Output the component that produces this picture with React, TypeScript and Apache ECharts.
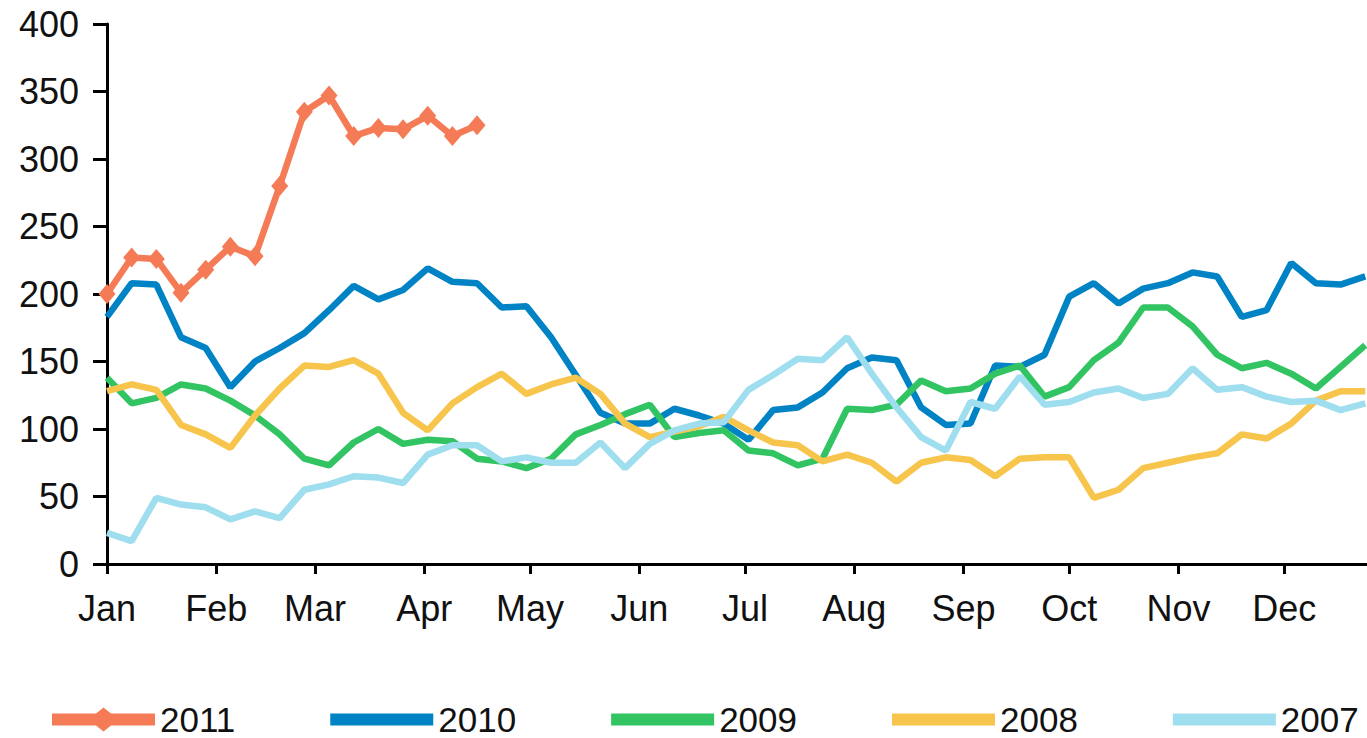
import React, { useEffect, useRef } from "react";
import * as echarts from "echarts";

const months = ["Jan", "Feb", "Mar", "Apr", "May", "Jun", "Jul", "Aug", "Sep", "Oct", "Nov", "Dec"];
const monthStartDays = [0, 31, 59, 90, 120, 151, 181, 212, 243, 273, 304, 334];
const yTicks = [0, 50, 100, 150, 200, 250, 300, 350, 400];

// weekly observations (day of year of each week)
const weekDays = Array.from({ length: 52 }, (_, i) => i * 7);

const s2011 = [200, 227, 226, 201, 218, 235, 228, 280, 335, 347, 317, 323, 322, 332, 317, 325];
const s2010 = [183, 208, 207, 168, 160, 131, 150, 160, 171, 188, 206, 196, 203, 219, 209, 208, 190, 191, 168, 140, 112, 104, 104, 115, 110, 104, 92, 114, 116, 127, 145, 153, 151, 116, 103, 104, 147, 146, 155, 198, 208, 193, 204, 208, 216, 213, 183, 188, 223, 208, 207, 213];
const s2009 = [138, 119, 123, 133, 130, 121, 110, 96, 78, 73, 90, 100, 89, 92, 91, 78, 76, 71, 78, 96, 103, 111, 118, 94, 97, 99, 84, 82, 73, 78, 115, 114, 118, 136, 128, 130, 141, 147, 124, 131, 151, 164, 190, 190, 176, 155, 145, 149, 141, 130, 146, 162];
const s2008 = [128, 133, 129, 103, 96, 86, 110, 130, 147, 146, 151, 141, 112, 99, 119, 131, 141, 126, 133, 138, 126, 104, 94, 98, 102, 109, 99, 90, 88, 76, 81, 75, 61, 75, 79, 77, 65, 78, 79, 79, 49, 55, 71, 75, 79, 82, 96, 93, 104, 121, 128, 128];
const s2007 = [23, 17, 49, 44, 42, 33, 39, 34, 55, 59, 65, 64, 60, 81, 88, 88, 76, 79, 75, 75, 90, 71, 89, 99, 104, 105, 129, 140, 152, 151, 168, 141, 116, 94, 84, 120, 115, 139, 118, 120, 127, 130, 123, 126, 145, 129, 131, 124, 120, 121, 114, 119];

const seriesNames = ["2011", "2010", "2009", "2008", "2007"];
const seriesValues = [s2011, s2010, s2009, s2008, s2007];
const seriesColors = ["#F47B55", "#0083C5", "#32C462", "#F7C44C", "#9FDEEE"];

const FONT = "Liberation Sans";

export default function App() {
  const ref = useRef<HTMLDivElement>(null);

  useEffect(() => {
    if (!ref.current) return;
    const chart = echarts.init(ref.current, undefined, { renderer: "svg" });

    const lineIcon = "path://M0,0 M103,24 M0,6 H103 V18 H0 Z";
    const markerIcon = "path://M0,6 H44 L51.5,0 L59,6 H103 V18 H59 L51.5,24 L44,18 H0 Z";

    const series = seriesNames.map((name, k) => ({
      name,
      type: "line",
      data: seriesValues[k].map((v, i) => [weekDays[i], v]),
      color: seriesColors[k],
      lineStyle: { width: 6.5, color: seriesColors[k] },
      itemStyle: { color: seriesColors[k] },
      symbol: k === 0 ? "diamond" : "none",
      symbolSize: k === 0 ? [17, 20] : 0,
      showSymbol: k === 0,
      z: k === 0 ? 10 : 2 + k,
      smooth: false,
    }));

    chart.setOption({
      animation: false,
      backgroundColor: "#ffffff",
      grid: { left: 107, right: 0, top: 24, bottom: 174, containLabel: false },
      legend: {
        left: 52,
        top: 702,
        width: 1315,
        padding: 0,
        itemWidth: 103,
        itemHeight: 24,
        itemGap: 95,
        symbolKeepAspect: false,
        textStyle: { fontFamily: FONT, fontSize: 35, color: "#111", lineHeight: 30 },
        data: seriesNames.map((n, k) => ({ name: n, icon: k === 0 ? markerIcon : lineIcon })),
      },
      xAxis: {
        type: "value",
        min: 0,
        max: 357.5,
        splitLine: { show: false },
        axisLine: { show: true, lineStyle: { color: "#000", width: 3 } },
        axisTick: { show: true, inside: false, length: 10, lineStyle: { color: "#000", width: 3 }, customValues: monthStartDays },
        axisLabel: {
          customValues: monthStartDays,
          formatter: (v: number) => {
            const idx = monthStartDays.indexOf(Math.round(v));
            return idx >= 0 ? months[idx] : "";
          },
          fontFamily: FONT,
          fontSize: 36,
          color: "#111",
          margin: 26,
        },
      },
      yAxis: {
        type: "value",
        min: yTicks[0],
        max: yTicks[yTicks.length - 1],
        interval: 50,
        splitLine: { show: false },
        axisLine: { show: true, lineStyle: { color: "#000", width: 3 } },
        axisTick: { show: true, inside: false, length: 14, lineStyle: { color: "#000", width: 3 } },
        axisLabel: { fontFamily: FONT, fontSize: 36, color: "#111", margin: 28 },
      },
      series,
    });

    return () => chart.dispose();
  }, []);

  return (
    <div
      ref={ref}
      style={{ position: "absolute", left: 0, top: 0, width: 1367, height: 738, overflow: "hidden" }}
    />
  );
}
